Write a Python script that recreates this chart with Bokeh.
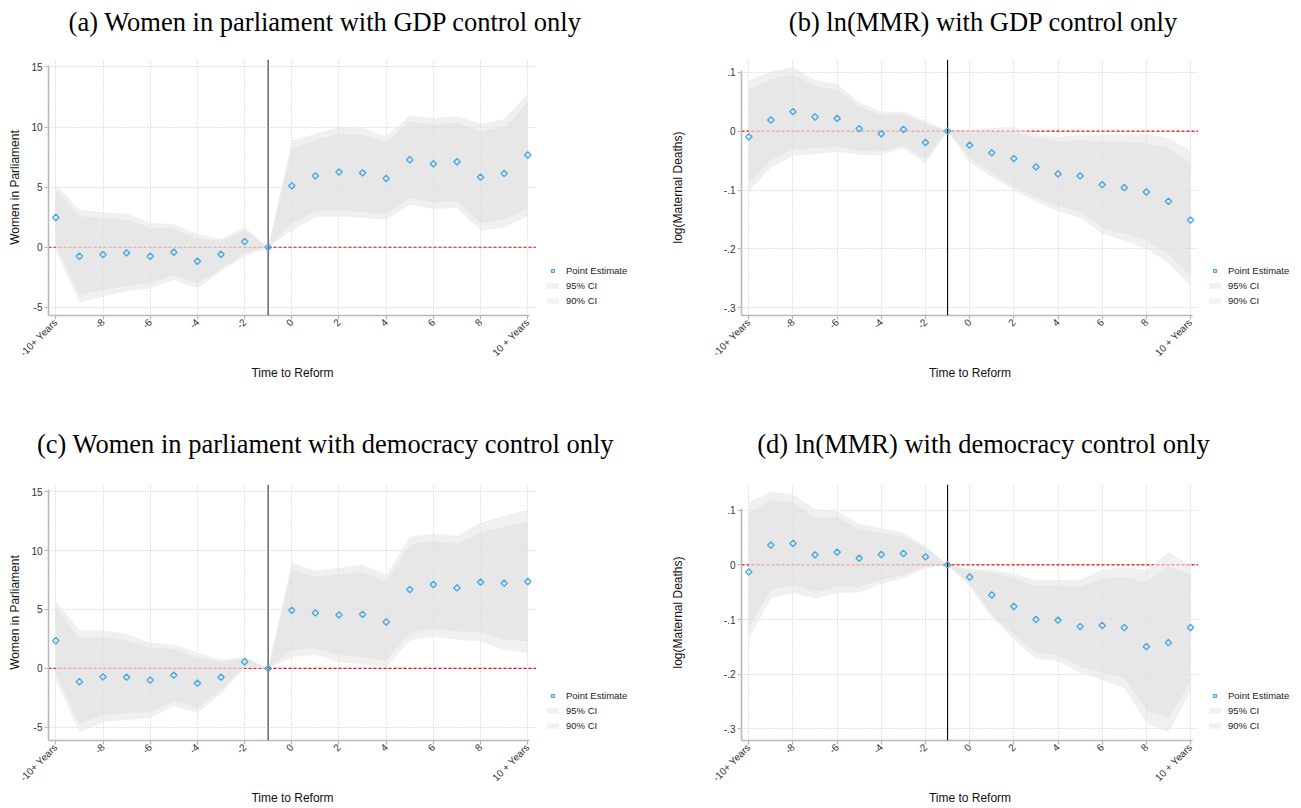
from math import pi
from bokeh.plotting import figure
from bokeh.models import Range1d, Span, Label, Legend, LegendItem, ColumnDataSource, Spacer
from bokeh.layouts import column, row
from bokeh.embed import file_html
from bokeh.resources import INLINE

# ---------------- data ----------------
periods = list(range(-10, 11))
x_tick_values = [-10, -8, -6, -4, -2, 0, 2, 4, 6, 8, 10]
x_tick_labels = ["-10+ Years", "-8", "-6", "-4", "-2", "0", "2", "4", "6", "8", "10 + Years"]

wip_ticks = [-5, 0, 5, 10, 15]
wip_tick_labels = ["-5", "0", "5", "10", "15"]
mmr_ticks = [-0.3, -0.2, -0.1, 0.0, 0.1]
mmr_tick_labels = ["-.3", "-.2", "-.1", "0", ".1"]

# (a) Women in parliament, GDP control
a_est = [2.47, -0.75, -0.61, -0.47, -0.75, -0.42, -1.17, -0.58, 0.47, 0.0,
         5.11, 5.94, 6.25, 6.19, 5.72, 7.28, 6.94, 7.11, 5.83, 6.14, 7.67]
a_hi95 = [5.22, 3.11, 2.92, 2.78, 2.03, 1.92, 1.11, 0.69, 1.67, 0.0,
          8.89, 9.44, 10.0, 9.94, 9.22, 10.94, 10.75, 10.89, 10.28, 10.64, 12.78]
a_hi90 = [4.78, 2.58, 2.42, 2.28, 1.61, 1.53, 0.75, 0.53, 1.39, 0.0,
          8.19, 8.94, 9.44, 9.39, 8.72, 10.42, 10.22, 10.36, 9.64, 10.0, 12.0]
a_lo90 = [0.16, -3.97, -3.56, -3.22, -3.0, -2.36, -3.0, -1.81, -0.50, 0.0,
          2.0, 3.0, 3.06, 2.92, 2.78, 4.11, 3.75, 3.83, 2.0, 2.31, 3.25]
a_lo95 = [-0.28, -4.58, -4.11, -3.67, -3.42, -2.72, -3.42, -2.0, -0.75, 0.0,
          1.39, 2.5, 2.56, 2.44, 2.28, 3.56, 3.19, 3.28, 1.39, 1.67, 2.58]

# (b) ln(MMR), GDP control
b_est = [-0.0097, 0.0188, 0.033, 0.0239, 0.0216, 0.004, -0.0045, 0.0028, -0.0193, 0.0,
         -0.0239, -0.0369, -0.0466, -0.0608, -0.0727, -0.0761, -0.0909, -0.096, -0.1034, -0.1193, -0.1511]
b_hi95 = [0.0858, 0.1006, 0.1085, 0.0869, 0.0801, 0.0489, 0.033, 0.033, 0.0176, 0.0,
          0.0017, 0.0051, 0.0074, -0.0051, -0.0097, -0.0068, -0.0063, -0.0063, -0.0051, -0.0119, -0.0335]
b_hi90 = [0.0705, 0.088, 0.096, 0.0767, 0.0699, 0.0415, 0.0273, 0.0278, 0.0131, 0.0,
          -0.0028, -0.0017, -0.0011, -0.0119, -0.0176, -0.0153, -0.0176, -0.0182, -0.021, -0.029, -0.0534]
b_lo90 = [-0.0892, -0.0494, -0.0307, -0.029, -0.0267, -0.0335, -0.0347, -0.0233, -0.0477, 0.0,
          -0.0449, -0.0705, -0.0932, -0.113, -0.1273, -0.1375, -0.1642, -0.1744, -0.1858, -0.2097, -0.2449]
b_lo95 = [-0.1017, -0.0619, -0.042, -0.0392, -0.0352, -0.0403, -0.0409, -0.029, -0.0551, 0.0,
          -0.0534, -0.0778, -0.1006, -0.12, -0.1358, -0.1472, -0.1744, -0.1858, -0.1994, -0.2239, -0.2636]

# (c) Women in parliament, democracy control
c_est = [2.35, -1.13, -0.71, -0.74, -0.99, -0.57, -1.25, -0.74, 0.57, 0.0,
         4.93, 4.71, 4.54, 4.59, 3.94, 6.69, 7.12, 6.83, 7.32, 7.23, 7.37]
c_hi95 = [5.70, 3.23, 3.23, 2.95, 2.18, 2.04, 1.33, 0.74, 1.02, 0.0,
          8.99, 8.28, 8.53, 8.82, 7.91, 11.17, 11.45, 11.23, 12.36, 12.93, 13.44]
c_hi90 = [5.16, 2.58, 2.67, 2.38, 1.73, 1.64, 0.96, 0.54, 0.88, 0.0,
          8.39, 7.77, 7.99, 8.19, 7.34, 10.46, 10.83, 10.55, 11.54, 12.02, 12.45]
c_lo90 = [-0.46, -4.71, -3.94, -3.80, -3.71, -2.81, -3.35, -1.81, 0.14, 0.0,
          1.59, 1.67, 1.11, 0.96, 0.65, 3.01, 3.37, 3.15, 3.09, 2.44, 2.30]
c_lo95 = [-1.0, -5.42, -4.56, -4.37, -4.20, -3.20, -3.77, -2.15, 0.03, 0.0,
          0.96, 1.16, 0.54, 0.31, 0.11, 2.38, 2.72, 2.44, 2.30, 1.59, 1.30]

# (d) ln(MMR), democracy control
d_est = [-0.0129, 0.0362, 0.0393, 0.0184, 0.0233, 0.0123, 0.019, 0.0209, 0.0147, 0.0,
         -0.0221, -0.0552, -0.0761, -0.1, -0.1012, -0.1129, -0.111, -0.1147, -0.1497, -0.1423, -0.1147]
d_hi95 = [0.1141, 0.1337, 0.1294, 0.1018, 0.0982, 0.0748, 0.0675, 0.0589, 0.0344, 0.0,
          -0.0074, -0.0086, -0.0166, -0.0288, -0.027, -0.027, -0.0092, -0.0043, -0.0092, 0.0233, -0.0012]
d_hi90 = [0.0939, 0.1184, 0.1153, 0.0859, 0.0865, 0.0663, 0.0589, 0.0521, 0.0307, 0.0,
          -0.0104, -0.0135, -0.0245, -0.038, -0.038, -0.0399, -0.0258, -0.0227, -0.0319, -0.0025, -0.0166]
d_lo90 = [-0.1147, -0.0454, -0.0368, -0.0491, -0.0399, -0.0405, -0.027, -0.0184, -0.0025, 0.0,
          -0.035, -0.0902, -0.127, -0.1607, -0.1656, -0.1865, -0.1975, -0.2067, -0.2669, -0.2804, -0.2129]
d_lo95 = [-0.1362, -0.0613, -0.0515, -0.0613, -0.0515, -0.0503, -0.035, -0.0245, -0.0061, 0.0,
          -0.0393, -0.0963, -0.1362, -0.1718, -0.1761, -0.1975, -0.211, -0.2252, -0.2896, -0.3067, -0.2313]

titles = ["(a) Women in parliament with GDP control only",
          "(b) ln(MMR) with GDP control only",
          "(c) Women in parliament with democracy control only",
          "(d) ln(MMR) with democracy control only"]
x_title = "Time to Reform"
y_title_wip = "Women in Parliament"
y_title_mmr = "log(Maternal Deaths)"
legend_labels = ["Point Estimate", "95% CI", "90% CI"]

# ---------------- style ----------------
BLUE = "#4aa8e6"
AXIS_GRAY = "#b9b9b9"
GRID_GRAY = "#c6c6c6"
SANS = "Liberation Sans"
SERIF = "Liberation Serif"
BAND95 = dict(fill_color="#e6e6e6", fill_alpha=0.62)
BAND90 = dict(fill_color="#d4d4d4", fill_alpha=0.30)
POINT = dict(marker="square", angle=pi / 4, size=4.5, line_color=BLUE, line_width=1.4, fill_alpha=0)

LEFT_W, RIGHT_W = 660, 641
LEFT_PLOT_W, RIGHT_PLOT_W = 536, 538
TOP_TITLE_H, TOP_PLOT_H = 45, 372
BOT_TITLE_H, BOT_PLOT_H = 60, 331
FRAME_H = 256
TOP_MB, BOT_MB = 14, 7
LEGEND_H = 45       # 3 rows of 11 + 2 gaps of 4 (+ slack)
LEGEND_INSET = 9    # gap between frame edge and legend swatches


def bare_fig(width, height, x0=0):
    f = figure(width=width, height=height, x_range=Range1d(x0, x0 + width), y_range=Range1d(0, height),
               x_axis_location=None, y_axis_location=None, min_border=0, title=None,
               output_backend="svg", toolbar_location=None)
    f.outline_line_color = None
    f.grid.visible = False
    return f


def title_fig(width, height, text, cx, cy):
    t = bare_fig(width, height)
    t.add_layout(Label(x=cx, y=cy, text=text, text_align="center", text_baseline="middle",
                       text_font=SERIF, text_font_size="26.5px", text_color="#000000"))
    return t


def legend_strip(width, gap_above, src):
    # the series are drawn far outside this figure's visible range: only the legend shows
    w = width - LEGEND_INSET
    lf = bare_fig(w, LEGEND_H, x0=1000)
    r_pt = lf.scatter(x="x", y="est", source=src, **POINT)
    r_95 = lf.varea(x="x", y1="lo95", y2="hi95", source=src, **BAND95)
    r_90 = lf.varea(x="x", y1="lo90", y2="hi90", source=src, **BAND90)
    legend = Legend(items=[LegendItem(label=legend_labels[0], renderers=[r_pt]),
                           LegendItem(label=legend_labels[1], renderers=[r_95]),
                           LegendItem(label=legend_labels[2], renderers=[r_90])],
                    location="top_left", padding=0, spacing=4, margin=0,
                    label_height=11, glyph_height=7, glyph_width=15, label_standoff=6,
                    label_text_font=SANS, label_text_font_size="9.5px", label_text_color="#222222",
                    background_fill_alpha=0, border_line_color=None)
    lf.add_layout(legend, "center")
    return column(Spacer(width=width, height=gap_above),
                  row(Spacer(width=LEGEND_INSET, height=LEGEND_H), lf, spacing=0),
                  spacing=0)


def make_panel(est, lo95, hi95, lo90, hi90, xr, yr, yticks, ylabels, ytitle,
               width, height, mb_left, mb_top, mb_bottom,
               y_label_standoff, vline_color, vline_width, y_axis_top):
    p = figure(width=width, height=height, x_range=Range1d(*xr), y_range=Range1d(*yr),
               output_backend="svg", toolbar_location=None, title=None,
               min_border_left=mb_left, min_border_right=0,
               min_border_top=mb_top, min_border_bottom=mb_bottom)
    p.outline_line_color = None
    p.background_fill_color = "white"
    p.border_fill_color = "white"

    src = ColumnDataSource(dict(x=periods, est=est, lo95=lo95, hi95=hi95, lo90=lo90, hi90=hi90))

    p.add_layout(Span(location=0, dimension="width", line_color="#ff0000", line_width=1.2,
                      line_dash="3 2", level="underlay"))

    p.varea(x="x", y1="lo95", y2="hi95", source=src, **BAND95)
    p.varea(x="x", y1="lo90", y2="hi90", source=src, **BAND90)

    p.add_layout(Span(location=-1, dimension="height", line_color=vline_color, line_width=vline_width))

    p.scatter(x="x", y="est", source=src, level="overlay", **POINT)

    p.xaxis.ticker = x_tick_values
    p.xaxis.major_label_overrides = {v: l for v, l in zip(x_tick_values, x_tick_labels)}
    p.xaxis.major_label_orientation = pi / 4
    p.xaxis.axis_label = x_title
    p.xaxis.bounds = (xr[0], 10.07)
    p.xaxis.axis_label_standoff = 1
    p.xaxis.major_label_standoff = 1

    p.yaxis.ticker = yticks
    p.yaxis.major_label_overrides = {v: l for v, l in zip(yticks, ylabels)}
    p.yaxis.axis_label = ytitle
    p.yaxis.bounds = (yr[0], y_axis_top)
    p.yaxis.axis_label_standoff = y_label_standoff
    p.yaxis.major_label_standoff = 2
    p.yaxis.major_label_orientation = "horizontal"

    for ax in (p.xaxis[0], p.yaxis[0]):
        ax.axis_line_color = AXIS_GRAY
        ax.axis_line_width = 1.6
        ax.major_tick_line_color = AXIS_GRAY
        ax.major_tick_line_width = 1.2
        ax.major_tick_out = 4
        ax.major_tick_in = 0
        ax.minor_tick_line_color = None
        ax.major_label_text_font = SANS
        ax.major_label_text_font_size = "10px"
        ax.major_label_text_color = "#333333"
        ax.axis_label_text_font = SANS
        ax.axis_label_text_font_size = "12px"
        ax.axis_label_text_font_style = "normal"
        ax.axis_label_text_color = "#111111"

    for g in (p.xgrid[0], p.ygrid[0]):
        g.grid_line_color = GRID_GRAY
        g.grid_line_dash = "1 2"
        g.grid_line_width = 1
    return p, src


# titles
ta = title_fig(LEFT_W, TOP_TITLE_H, titles[0], 325, 24)
tb = title_fig(RIGHT_W, TOP_TITLE_H, titles[1], 323, 24)
tc = title_fig(LEFT_W, BOT_TITLE_H, titles[2], 325, 34)
td = title_fig(RIGHT_W, BOT_TITLE_H, titles[3], 323, 34)

# panels (frames: top row y 59-315, bottom row y 484-740)
pa, sa = make_panel(a_est, a_lo95, a_hi95, a_lo90, a_hi90, (-10.31, 10.37), (-5.68, 15.62),
                    wip_ticks, wip_tick_labels, y_title_wip,
                    LEFT_PLOT_W, TOP_PLOT_H, 48, TOP_MB, TOP_PLOT_H - TOP_MB - FRAME_H,
                    6, "#707070", 1.6, 15.15)
pb, sb = make_panel(b_est, b_lo95, b_hi95, b_lo90, b_hi90, (-10.33, 10.36), (-0.3131, 0.1216),
                    mmr_ticks, mmr_tick_labels, y_title_mmr,
                    RIGHT_PLOT_W, TOP_PLOT_H, 81, TOP_MB, TOP_PLOT_H - TOP_MB - FRAME_H,
                    36, "#000000", 1.1, 0.1035)
pc, sc = make_panel(c_est, c_lo95, c_hi95, c_lo90, c_hi90, (-10.31, 10.37), (-6.11, 15.6),
                    wip_ticks, wip_tick_labels, y_title_wip,
                    LEFT_PLOT_W, BOT_PLOT_H, 48, BOT_MB, BOT_PLOT_H - BOT_MB - FRAME_H,
                    6, "#707070", 1.6, 15.15)
pd_, sd = make_panel(d_est, d_lo95, d_hi95, d_lo90, d_hi90, (-10.33, 10.36), (-0.3214, 0.1471),
                     mmr_ticks, mmr_tick_labels, y_title_mmr,
                     RIGHT_PLOT_W, BOT_PLOT_H, 81, BOT_MB, BOT_PLOT_H - BOT_MB - FRAME_H,
                     36, "#000000", 1.1, 0.1035)

# legend strips: last legend row sits about 15 px above the frame bottom of the neighbouring panel
la = legend_strip(LEFT_W - LEFT_PLOT_W, TOP_MB + FRAME_H - 50, sa)
lb = legend_strip(RIGHT_W - RIGHT_PLOT_W, TOP_MB + FRAME_H - 50, sb)
lc = legend_strip(LEFT_W - LEFT_PLOT_W, BOT_MB + FRAME_H - 50, sc)
ld = legend_strip(RIGHT_W - RIGHT_PLOT_W, BOT_MB + FRAME_H - 50, sd)

layout = column(row(ta, tb), row(pa, la, pb, lb), row(tc, td), row(pc, lc, pd_, ld))

with open("out.html", "w") as f:
    f.write(file_html(layout, INLINE))
